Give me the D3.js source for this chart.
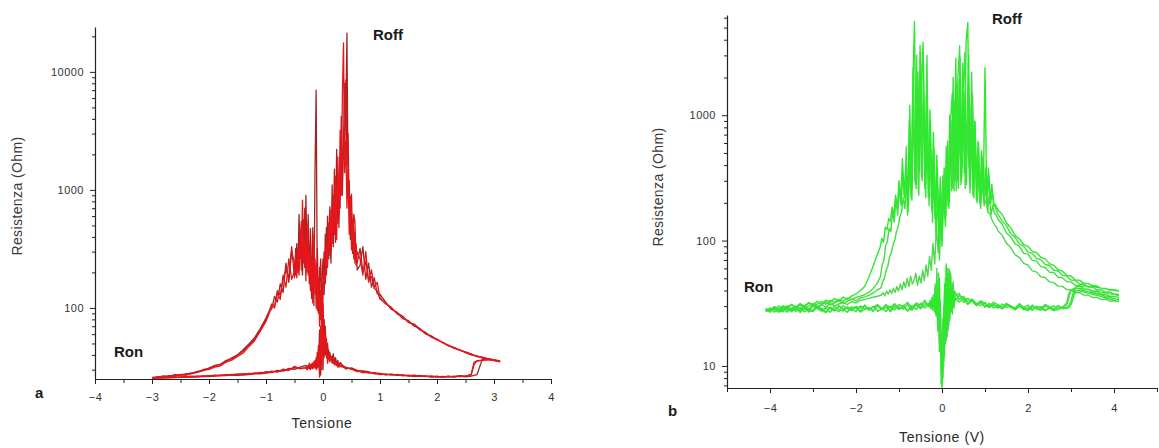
<!DOCTYPE html>
<html>
<head>
<meta charset="utf-8">
<script src="https://cdn.jsdelivr.net/npm/d3@7"></script>
<style>
  body { margin: 0; background: #fff; }
  svg { display: block; }
  text { font-family: "Liberation Sans", Arial, sans-serif; }
</style>
</head>
<body>
<svg id="chart" width="1159" height="448"></svg>
<script>
// ---------------- Panel a: resistance vs voltage, three sweep cycles ----------------
// Voltage samples of the upper (high-resistance) branch, swept from -3 V to +3.1 V
const aUpperV = [
  -3.0,-2.9,-2.8,-2.7,-2.6,-2.5,-2.4,-2.3,-2.2,-2.1,-2.0,-1.9,-1.8,-1.7,-1.6,-1.5,-1.4,-1.3,-1.2,-1.1,-1.0,
  -0.95,-0.9,-0.85,-0.8,-0.75,-0.7,-0.65,-0.6,-0.55,
  -0.5,-0.48,-0.46,-0.44,-0.42,-0.4,-0.38,-0.36,-0.34,-0.32,-0.3,-0.28,-0.26,-0.24,-0.22,-0.2,-0.18,-0.16,-0.14,-0.12,
  -0.1,-0.08,-0.06,-0.04,-0.02,0,0.02,0.04,0.06,0.08,0.1,0.12,0.14,0.16,0.18,0.2,0.22,0.24,0.26,0.28,
  0.3,0.32,0.34,0.36,0.38,0.4,0.42,0.44,0.46,0.48,0.5,0.52,0.54,0.56,0.58,0.6,
  0.65,0.7,0.75,0.8,0.85,0.9,0.95,1.0,
  1.1,1.2,1.3,1.4,1.5,1.6,1.7,1.8,1.9,2.0,2.1,2.2,2.3,2.4,2.5,2.6,2.7,2.8,2.9,3.0,3.1
];
// Voltage samples of the lower (low-resistance) branch, swept back from +3.1 V to -3 V
const aLowerV = [
  3.1,3.0,2.9,2.8,2.7,2.65,2.6,2.5,2.4,2.3,2.2,2.1,2.0,1.9,1.8,1.7,1.6,1.5,1.4,1.3,1.2,1.1,1.0,0.9,0.8,0.7,0.6,0.5,0.4,
  0.3,0.28,0.26,0.24,0.22,0.2,0.18,0.16,0.14,0.12,0.1,0.08,0.06,0.04,0.02,0,
  -0.02,-0.04,-0.06,-0.08,-0.1,-0.12,-0.14,-0.16,-0.18,-0.2,-0.22,-0.24,-0.26,-0.28,-0.3,
  -0.4,-0.5,-0.6,-0.7,-0.8,-0.9,-1.0,-1.1,-1.2,-1.3,-1.4,-1.5,-1.6,-1.7,-1.8,-1.9,-2.0,-2.1,-2.2,-2.3,-2.4,-2.5,-2.6,-2.7,-2.8,-2.9,-3.0
];
// Resistance (Ohm), one array per cycle and branch
const aUpper1 = [
  25.5,26,26.2,25.8,26.8,27.1,26.9,27.8,28.4,29.6,30.2,31.5,32.3,34.8,36.1,38.9,41.5,47.2,52.8,63.5,77,
  88,105,100,135,118,190,150,260,175,
  205,260,180,310,230,450,210,820,240,380,170,520,190,300,140,260,110,420,130,240,
  95,180,70,140,60,120,210,160,340,220,520,280,680,350,900,420,1300,380,1900,620,
  3200,900,6500,17600,1400,2600,700,1500,420,880,310,560,260,430,230,300,
  260,190,300,165,210,150,165,122,
  108,101,89,84,76,72,65,62,57,54.5,50.5,48.5,45.8,44.2,42,40.3,39.2,38,37.2,36.1,35
];
const aUpper2 = [
  25.8,25.9,26.6,26.3,27.2,27.0,27.6,28.1,29.0,29.4,31.0,32.2,33.5,35.2,37.8,40.1,44.2,49.5,56.0,66.8,82,
  93,98,125,112,160,135,240,165,300,
  240,190,350,200,620,260,300,190,560,220,900,240,380,160,470,150,300,105,1500,7000,
  140,90,220,80,170,260,130,420,190,600,260,380,240,1100,330,760,480,2200,520,1100,
  700,4200,1200,2400,8000,3600,21300,900,1200,380,640,290,480,240,350,210,
  230,330,175,240,150,180,132,130,
  112,97,92,81,78,70,67,60,58,53.5,51.2,47.6,46.4,43.6,42.5,40.8,38.7,38.3,36.8,36.4,35.6
];
const aUpper3 = [
  25.6,26.1,25.9,26.7,26.4,27.3,27.4,28.0,28.7,30.1,30.6,32.6,33.0,36.0,37.0,39.8,43.0,48.5,54.5,64.5,79,
  92,108,104,140,128,175,210,180,330,
  180,320,230,260,190,380,540,260,330,700,280,200,620,230,360,120,480,180,260,100,
  320,120,150,260,95,180,300,230,480,260,380,720,300,560,420,1500,360,900,1200,480,
  1800,2600,900,3400,1800,8500,1600,3000,650,500,920,340,620,535,260,240,
  320,200,250,170,185,146,140,119,
  110,99,91,85,75,73,66,61.5,56.5,54,51,48,45.5,44,41.8,40,39,37.6,37,35.8,35.2
];
const aLower1 = [
  35,36,36.4,36.2,35.8,33,27,26.6,26.2,26.4,25.9,26.3,26.0,26.5,26.2,26.8,26.4,27.0,26.6,27.3,27.0,27.6,27.2,28.0,28.6,28.2,29.5,30.2,31.5,
  33,31.5,34,32.5,35,33,37,34,38,35,40,34,45,60,38,95,
  30,70,28,48,33,38,31,35,30.5,33.5,31,34,30.8,32.5,31.2,
  30.5,32,29.5,30.3,28.6,29.1,28.2,28.4,27.8,27.9,27.4,27.6,27.1,27.2,26.8,26.9,26.5,26.6,26.3,26.4,26.0,26.1,25.8,25.9,25.6,25.7,25.5
];
const aLower2 = [
  35.6,36.5,37,37.2,27.2,26.8,26.4,26.1,26.5,26.0,26.3,25.8,26.4,26.1,26.6,26.3,26.9,26.5,27.1,26.8,27.5,27.1,27.8,28.3,28.0,29.0,29.6,31.0,30.4,
  34.5,32,36,33,38,34.5,41,35,39,36.5,44,37,55,40,80,30,
  120,27,65,32,42,30,36,32.5,34,31,33,30.5,32,31,32.6,
  31.5,30.2,30.8,29.2,29.6,28.4,28.8,27.9,28.1,27.5,27.7,27.2,27.3,26.9,27.0,26.6,26.7,26.3,26.4,26.1,26.2,25.9,26.0,25.7,25.8,25.6,25.6
];
const aLower3 = [
  35.2,35.8,36.8,36.0,35.5,34.8,27.5,26.3,26.7,26.1,26.4,26.0,26.2,25.9,26.4,26.6,26.2,26.7,26.9,27.1,27.4,27.2,27.9,27.6,28.8,29.3,28.9,30.5,31.0,
  32,33.5,31.5,35,33,36,34,39,36,42,37,50,38,70,45,110,
  33,60,26,40,31,36,33,31,34,32,30,33,31.5,30,31,
  30.8,31.2,29.8,29.4,29.0,28.6,28.0,27.7,27.6,27.3,27.0,26.9,27.0,26.7,26.6,26.5,26.2,26.3,26.0,25.9,26.0,25.8,25.7,25.6,25.7,25.5,25.6
];
const aXTicks = [-4,-3,-2,-1,0,1,2,3,4];
const aYTicks = [100,1000,10000];

// ---------------- Panel b: resistance vs voltage, four sweep cycles ----------------
// Upper branch voltages: shared tails, per-cycle sampling in the switching region
const bTailNegV = [
  -4.1,-4.0,-3.9,-3.8,-3.7,-3.6,-3.5,-3.4,-3.3,-3.2,-3.1,-3.0,-2.9,-2.8,-2.7,-2.6,-2.5,-2.4,-2.3,-2.2,-2.1,-2.0,-1.9,-1.8,-1.7,-1.6,-1.5
];
const bCenterV1 = [
  -1.44,-1.40,-1.36,-1.32,-1.28,-1.24,-1.20,-1.16,-1.12,-1.08,-1.04,-1.00,-0.96,-0.92,-0.88,-0.84,-0.80,-0.76,-0.72,-0.68,
  -0.64,-0.60,-0.56,-0.52,-0.48,-0.44,-0.40,-0.36,-0.32,-0.28,-0.24,-0.20,-0.16,-0.12,-0.08,-0.04,0.00,0.04,0.08,0.12,
  0.16,0.20,0.24,0.28,0.32,0.36,0.40,0.44,0.48,0.52,0.56,0.60,0.64,0.68,0.72,0.76,0.80,0.84,0.88,0.92,
  0.96,1.00,1.04,1.08,1.12,1.16,1.20,1.24
];
const bCenterV2 = [
  -1.43,-1.39,-1.35,-1.31,-1.27,-1.23,-1.19,-1.15,-1.11,-1.07,-1.03,-0.99,-0.95,-0.91,-0.87,-0.83,-0.79,-0.75,-0.71,-0.67,
  -0.63,-0.59,-0.55,-0.51,-0.47,-0.43,-0.39,-0.35,-0.31,-0.27,-0.23,-0.19,-0.15,-0.11,-0.07,-0.03,0.01,0.05,0.09,0.13,
  0.17,0.21,0.25,0.29,0.33,0.37,0.41,0.45,0.49,0.53,0.57,0.61,0.65,0.69,0.73,0.77,0.81,0.85,0.89,0.93,
  0.97,1.01,1.05,1.09,1.13,1.17,1.21,1.25
];
const bCenterV3 = [
  -1.42,-1.38,-1.34,-1.30,-1.26,-1.22,-1.18,-1.14,-1.10,-1.06,-1.02,-0.98,-0.94,-0.90,-0.86,-0.82,-0.78,-0.74,-0.70,-0.66,
  -0.62,-0.58,-0.54,-0.50,-0.46,-0.42,-0.38,-0.34,-0.30,-0.26,-0.22,-0.18,-0.14,-0.10,-0.06,-0.02,0.02,0.06,0.10,0.14,
  0.18,0.22,0.26,0.30,0.34,0.38,0.42,0.46,0.50,0.54,0.58,0.62,0.66,0.70,0.74,0.78,0.82,0.86,0.90,0.94,
  0.98,1.02,1.06,1.10,1.14,1.18,1.22,1.26
];
const bCenterV4 = [
  -1.41,-1.37,-1.33,-1.29,-1.25,-1.21,-1.17,-1.13,-1.09,-1.05,-1.01,-0.97,-0.93,-0.89,-0.85,-0.81,-0.77,-0.73,-0.69,-0.65,
  -0.61,-0.57,-0.53,-0.49,-0.45,-0.41,-0.37,-0.33,-0.29,-0.25,-0.21,-0.17,-0.13,-0.09,-0.05,-0.01,0.03,0.07,0.11,0.15,
  0.19,0.23,0.27,0.31,0.35,0.39,0.43,0.47,0.51,0.55,0.59,0.63,0.67,0.71,0.75,0.79,0.83,0.87,0.91,0.95,
  0.99,1.03,1.07,1.11,1.15,1.19,1.23,1.27
];
const bTailPosV = [
  1.3,1.4,1.5,1.6,1.7,1.8,1.9,2.0,2.1,2.2,2.3,2.4,2.5,2.6,2.7,2.8,2.9,3.0,3.1,3.2,3.3,3.4,3.5,3.6,3.7,3.8,3.9,4.0,4.1
];
// Lower branch voltages, swept back from +4.1 V to -4.1 V
const bLowerV = [
  4.1,4.0,3.9,3.8,3.7,3.6,3.5,3.4,3.3,3.2,3.1,3.05,3.0,2.95,2.9,
  2.8,2.7,2.6,2.5,2.4,2.3,2.2,2.1,2.0,1.9,1.8,1.7,1.6,1.5,1.4,1.3,1.2,1.1,1.0,0.9,0.8,0.7,0.6,0.5,0.4,
  0.3,0.28,0.26,0.24,0.22,0.2,0.18,0.16,0.14,0.12,0.1,0.08,0.06,0.04,0.02,0,
  -0.02,-0.04,-0.06,-0.08,-0.1,-0.12,-0.14,-0.16,-0.18,-0.2,-0.22,-0.24,-0.26,-0.28,-0.3,
  -0.4,-0.5,-0.6,-0.7,-0.8,-0.9,-1.0,-1.1,-1.2,-1.3,-1.4,-1.5,-1.6,-1.7,-1.8,-1.9,-2.0,-2.1,-2.2,-2.3,
  -2.4,-2.5,-2.6,-2.7,-2.8,-2.9,-3.0,-3.1,-3.2,-3.3,-3.4,-3.5,-3.6,-3.7,-3.8,-3.9,-4.0,-4.1
];
const bUpper1 = [
  28.5,27.6,29.8,28.4,30.2,28.9,30.9,29.3,31.5,30.0,32.0,30.6,32.8,31.2,33.5,32.0,34.6,32.8,35.4,34.0,36.2,37.5,39.8,43,51,63,78,
  88,104,97,128,122,150,142,185,160,230,180,300,200,450,230,380,160,900,220,1600,
  5600,260,2200,350,1800,3800,260,1500,220,1100,180,730,150,480,110,320,90,260,130,520,
  180,900,1500,250,2850,300,1900,280,2600,350,3800,5500,300,1200,230,900,210,620,200,520,
  230,2400,210,380,200,280,190,195,
  175,162,138,126,110,103,93,90,82,80,73.5,71.5,65.5,63.5,58.5,57,52.8,52.2,48.6,48.2,45.8,45.6,43.6,43.4,41.8,41.6,40.3,40.5,39.8
];
const bUpper2 = [
  27.2,29.0,27.9,30.0,28.4,29.4,31.0,29.2,30.5,29.6,31.8,30.2,31.2,32.6,31.0,33.4,32.0,34.0,32.8,34.8,33.6,35.2,36.0,37.0,38.6,41.5,46,
  52,64,70,92,98,125,118,170,140,215,160,280,190,350,220,560,170,1200,240,2400,
  300,3000,240,3600,320,2600,260,3000,230,900,170,560,140,380,100,240,130,380,160,620,
  200,900,260,1300,250,2000,3580,300,1600,3150,280,1400,240,2200,260,880,210,600,190,470,
  210,380,190,330,200,240,195,180,
  162,143,131,113,106,94,90,81,79,72,70.5,64.5,63.5,58,57.2,52.8,52,48.4,48.3,44.9,45.0,42.5,42.6,40.3,40.6,38.8,38.9,37.5,37.3
];
const bUpper3 = [
  28.2,26.8,29.1,27.6,28.8,30.2,28.0,29.5,30.8,28.9,30.0,31.5,29.7,31.0,32.4,30.6,31.8,33.2,31.6,32.9,34.3,33.0,34.9,35.6,36.5,38.2,40.5,
  42,47,50,58,62,74,80,92,100,118,128,155,170,220,180,330,190,520,210,1100,
  280,1700,230,3200,300,1300,220,900,190,520,140,400,110,260,70,160,330,150,560,190,
  1000,250,2000,300,1200,260,2900,320,1300,260,900,3000,260,780,220,560,200,400,180,340,
  190,280,170,230,160,190,165,160,
  148,135,115,107,94,90,79,78,69.5,68.5,62,61,55.8,55.6,51,50.6,47,46.8,43.8,43.6,41.2,41.0,39,38.9,37.4,37.3,36,35.9,35.2
];
const bUpper4 = [
  27.5,28.8,26.9,28.2,29.4,27.7,28.9,30.0,28.3,29.6,28.6,30.4,29.2,30.8,29.6,31.5,30.1,31.2,32.2,30.9,32.6,31.8,33.4,34.0,34.6,35.3,36.0,
  36.8,38.5,36.2,39.5,37.4,40.5,37.8,41.8,38.5,43,39.5,45,40.5,47,42,50,43,52,45,48,
  55,44,52,46,58,48,64,52,75,58,95,65,130,80,170,100,240,150,400,210,
  560,290,700,340,1800,450,900,380,1500,520,850,380,600,1500,330,450,250,330,230,270,
  195,210,168,165,150,140,132,128,
  120,110,95,88,77,73.5,65.8,63.6,57.4,56,51.3,50.8,46.8,46.2,43.3,43.1,40.6,40.5,38.4,38.4,36.7,36.8,35.2,35.3,33.9,34.1,32.9,33.1,32.5
];
const bLower1 = [
  39.5,40.2,40.8,41.2,41.8,42.3,42.8,43.1,43.5,43.2,42.5,38,33,30,29.3,
  28.6,29.8,27.9,29.0,27.6,28.8,30.0,27.8,29.3,28.2,30.1,28.0,29.6,31.0,28.5,30.4,29.0,31.6,29.4,32.5,30.2,33.4,31.0,34.5,32.4,
  35,31,38,30,42,28,48,25,55,22,62,18,45,14,9,6.7,
  12,20,50,24,40,27,36,29,34,30,33,29.5,32,30,31.5,
  30.5,28.6,31.2,29.0,27.4,30.4,28.2,29.8,27.0,30.9,28.5,27.3,29.9,28.0,30.6,27.2,28.9,29.7,26.8,28.4,
  30.2,27.5,29.0,26.9,28.7,30.0,27.3,28.1,29.4,26.7,28.6,27.8,29.5,27.0,28.2,28.9,27.4,28.1
];
const bLower2 = [
  36.5,37.2,37.6,38.4,38.8,39.5,39.9,40.6,41.0,41.5,41.8,41.2,40.5,35,30.5,
  29.4,28.1,30.2,28.9,27.7,29.8,28.5,30.6,28.0,29.4,30.8,28.7,30.0,29.2,31.2,28.9,30.5,29.6,32.0,30.3,31.6,33.5,31.0,34.8,36.5,
  33,40,30,45,27,52,24,60,20,38,16,50,12,30,8,18,
  7.2,24,15,45,22,60,26,38,28,35,31,33.5,29,32,30.5,
  32.0,29.2,30.6,27.8,31.0,28.4,29.6,30.8,27.6,29.3,28.1,30.4,27.2,29.0,28.6,30.1,27.0,28.8,29.6,27.4,
  28.3,30.0,26.8,28.9,27.7,29.2,28.0,26.9,29.4,27.5,28.6,27.1,29.0,27.9,26.8,28.5,27.6,27.3
];
const bLower3 = [
  33.5,34.5,35.2,36.0,36.9,37.5,38.4,39.0,39.8,40.4,39.6,34.5,30.8,29.2,28.8,
  29.5,28.3,27.6,28.9,30.1,27.8,28.6,29.7,27.5,28.8,29.9,28.2,29.4,30.6,28.6,29.8,31.2,29.2,30.5,32.0,30.6,32.8,34.6,32.2,38,
  36,29,44,26,40,33,58,21,46,17,65,24,36,11,20,7.5,
  16,28,13,35,19,48,25,42,27,37,30,34,28.5,33,31,
  29.0,31.6,28.2,30.2,27.6,29.5,31.0,28.0,29.9,27.2,28.8,30.6,27.5,29.2,28.3,26.9,29.8,27.8,28.6,30.3,
  27.1,28.4,29.3,26.6,28.0,29.7,27.4,28.5,27.0,29.1,27.9,28.7,26.8,28.2,27.5,28.9,27.8,28.3
];
const bLower4 = [
  32.5,33.4,34.2,35.0,35.8,36.6,37.3,38.1,38.9,39.5,40.2,40.6,40.0,38.0,32,
  29.0,30.4,28.4,29.7,31.0,28.6,29.9,28.1,30.6,29.3,31.4,28.9,30.2,31.6,29.4,30.8,32.2,30.0,31.8,33.0,31.2,34.2,32.6,36.0,34.0,
  39,32,47,28,35,55,23,42,19,60,26,15,40,10,24,6.9,
  13,33,17,55,21,38,26,45,29,36,28,35,30.5,33,29.5,
  33.5,30.4,31.8,29.0,32.2,30.0,28.6,31.4,29.3,30.6,28.2,30.9,29.5,27.8,30.2,28.9,29.8,27.6,29.4,28.4,
  30.0,27.5,28.9,29.6,27.3,28.6,29.9,27.7,28.3,29.2,27.2,28.8,28.0,29.4,27.4,28.5,27.9,28.6
];
const bXTicks = [-4,-2,0,2,4];
const bYTicks = [10,100,1000];

// ---------------- drawing ----------------
const svg = d3.select("#chart");

// Log-axis minor ticks (2..9 × each decade) inside a domain
function logMinors(lo, hi) {
  const out = [];
  for (let e = Math.floor(Math.log10(lo)); e <= Math.ceil(Math.log10(hi)); e++) {
    for (let m = 2; m <= 9; m++) {
      const v = m * Math.pow(10, e);
      if (v >= lo && v <= hi) out.push(v);
    }
  }
  return out;
}

function pairUp(vs, rs) {
  const n = Math.min(vs.length, rs.length);
  const pts = [];
  for (let i = 0; i < n; i++) pts.push([vs[i], rs[i]]);
  return pts;
}

function drawPanel(cfg) {
  const x = d3.scaleLinear().domain(cfg.xDomain).range([cfg.left, cfg.right]);
  const y = d3.scaleLog().domain(cfg.yDomain).range([cfg.bottom, cfg.top]);
  const g = svg.append("g");

  const clipId = "clip-" + cfg.name;
  g.append("clipPath").attr("id", clipId).append("rect")
    .attr("x", cfg.left).attr("y", cfg.top - 2)
    .attr("width", cfg.right - cfg.left).attr("height", cfg.bottom - cfg.top + 2);

  const line = d3.line().x(d => x(d[0])).y(d => y(d[1]));
  const traces = g.append("g").attr("clip-path", `url(#${clipId})`);
  cfg.cycles.forEach((c, i) => {
    const pts = pairUp(c.upperV, c.upper).concat(pairUp(c.lowerV, c.lower));
    traces.append("path")
      .attr("d", line(pts))
      .attr("fill", "none")
      .attr("stroke", cfg.colors[i % cfg.colors.length])
      .attr("stroke-width", cfg.lineWidth)
      .attr("stroke-linejoin", "round");
  });

  // x axis: labelled major ticks plus short minor ticks
  const xAxis = g.append("g").attr("transform", `translate(0,${cfg.bottom})`)
    .call(d3.axisBottom(x).tickValues(cfg.xTicks).tickSize(5).tickSizeOuter(0)
      .tickPadding(cfg.xPad).tickFormat(d3.format("d")));
  g.append("g").attr("transform", `translate(0,${cfg.bottom})`)
    .call(d3.axisBottom(x).tickValues(cfg.xMinor).tickSize(4).tickSizeOuter(0).tickFormat(""))
    .select(".domain").remove();

  // y axis: decades labelled, minor ticks unlabelled
  const yAxis = g.append("g").attr("transform", `translate(${cfg.left},0)`)
    .call(d3.axisLeft(y).tickValues(cfg.yTicks).tickSize(5).tickSizeOuter(0)
      .tickPadding(6).tickFormat(d3.format("d")));
  g.append("g").attr("transform", `translate(${cfg.left},0)`)
    .call(d3.axisLeft(y).tickValues(logMinors(cfg.yDomain[0], cfg.yDomain[1])).tickSize(3)
      .tickSizeOuter(0).tickFormat(""))
    .select(".domain").remove();

  g.selectAll(".domain").attr("stroke", "#222").attr("stroke-width", 1.2);
  g.selectAll(".tick line").attr("stroke", "#222");
  [xAxis, yAxis].forEach(a => a.selectAll("text")
    .attr("font-family", "'Liberation Sans', Arial, sans-serif")
    .attr("font-size", 11).attr("fill", "#333").attr("letter-spacing", "0.5px"));

  // axis titles
  g.append("text").attr("x", cfg.xTitlePos[0]).attr("y", cfg.xTitlePos[1])
    .attr("text-anchor", "middle").attr("font-size", 14).attr("fill", "#2a2a2a")
    .attr("letter-spacing", "0.6px").text(cfg.xTitle);
  g.append("text")
    .attr("transform", `translate(${cfg.yTitlePos[0]},${cfg.yTitlePos[1]}) rotate(-90)`)
    .attr("text-anchor", "middle").attr("font-size", 14).attr("fill", "#3a3a3a")
    .attr("letter-spacing", "0.4px").text("Resistenza (Ohm)");

  // annotations
  const bold = "'Open Sans', 'Liberation Sans', sans-serif";
  cfg.notes.forEach(n => {
    g.append("text").attr("x", n[1]).attr("y", n[2])
      .attr("font-family", bold).attr("font-weight", "bold")
      .attr("font-size", n[3]).attr("fill", "#1a1a1a").text(n[0]);
  });
}

drawPanel({
  name: "a",
  xDomain: [-4, 4], yDomain: [25, 24000],
  left: 95, right: 551, top: 27, bottom: 379,
  cycles: [
    { upperV: aUpperV, upper: aUpper2, lowerV: aLowerV, lower: aLower2 },
    { upperV: aUpperV, upper: aUpper3, lowerV: aLowerV, lower: aLower3 },
    { upperV: aUpperV, upper: aUpper1, lowerV: aLowerV, lower: aLower1 }
  ],
  colors: ["#9a2727", "#c41d1d", "#e8151b"],
  lineWidth: 1.3,
  xTicks: aXTicks, xMinor: [-3.5,-2.5,-1.5,-0.5,0.5,1.5,2.5,3.5], xPad: 9,
  yTicks: aYTicks,
  xTitle: "Tensione", xTitlePos: [322, 428],
  yTitlePos: [22, 196],
  notes: [["Roff", 373, 40, 15], ["Ron", 114, 357, 15], ["a", 35, 398, 15]]
});

drawPanel({
  name: "b",
  xDomain: [-5, 5], yDomain: [6.67, 6300],
  left: 727, right: 1157, top: 15, bottom: 388,
  cycles: [
    { upperV: bTailNegV.concat(bCenterV4, bTailPosV), upper: bUpper4, lowerV: bLowerV, lower: bLower4 },
    { upperV: bTailNegV.concat(bCenterV3, bTailPosV), upper: bUpper3, lowerV: bLowerV, lower: bLower3 },
    { upperV: bTailNegV.concat(bCenterV2, bTailPosV), upper: bUpper2, lowerV: bLowerV, lower: bLower2 },
    { upperV: bTailNegV.concat(bCenterV1, bTailPosV), upper: bUpper1, lowerV: bLowerV, lower: bLower1 }
  ],
  colors: ["#4fd84f", "#3ae23a", "#44dd44", "#2aea2a"],
  lineWidth: 1.4,
  xTicks: bXTicks, xMinor: [-5,-3,-1,1,3,5], xPad: 11,
  yTicks: bYTicks,
  xTitle: "Tensione (V)", xTitlePos: [942, 442],
  yTitlePos: [663, 187],
  notes: [["Roff", 992, 24, 15], ["Ron", 744, 292, 15], ["b", 668, 416, 15]]
});
</script>
</body>
</html>
